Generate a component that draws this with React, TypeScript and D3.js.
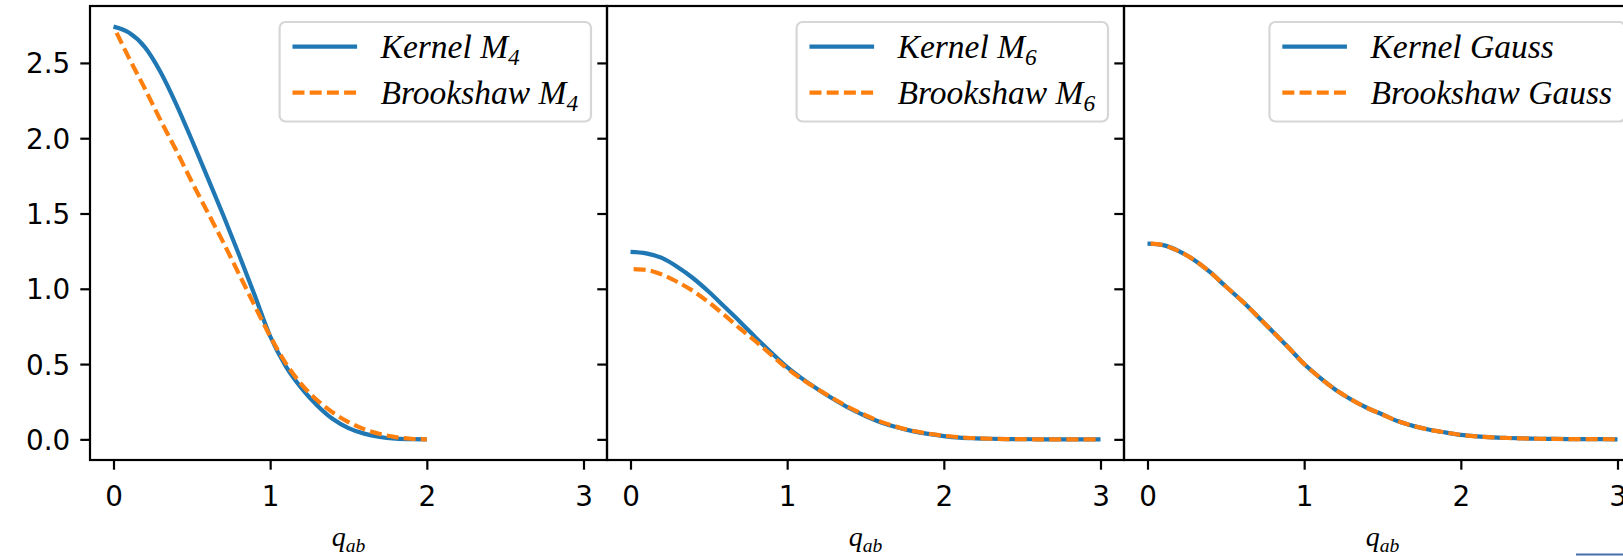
import React, { useRef, useEffect } from 'react';
import * as d3 from 'd3';

// q values (x axis)
const qM4 = [0, 0.1, 0.2, 0.3, 0.4, 0.5, 0.6, 0.7, 0.8, 0.9, 1.0, 1.1, 1.2, 1.3, 1.4, 1.5, 1.6, 1.7, 1.8, 1.9, 2.0];
const qM4Brook = [0.02, 0.1, 0.2, 0.3, 0.4, 0.5, 0.6, 0.7, 0.8, 0.9, 1.0, 1.1, 1.2, 1.3, 1.4, 1.5, 1.6, 1.7, 1.8, 1.9, 2.0];
const qLong = [0, 0.1, 0.2, 0.3, 0.4, 0.5, 0.6, 0.7, 0.8, 0.9, 1.0, 1.1, 1.2, 1.3, 1.4, 1.5, 1.6, 1.7, 1.8, 1.9, 2.0,
  2.1, 2.2, 2.3, 2.4, 2.5, 2.6, 2.7, 2.8, 2.9, 3.0];
const qLongBrook = [0.02, 0.1, 0.2, 0.3, 0.4, 0.5, 0.6, 0.7, 0.8, 0.9, 1.0, 1.1, 1.2, 1.3, 1.4, 1.5, 1.6, 1.7, 1.8, 1.9, 2.0,
  2.1, 2.2, 2.3, 2.4, 2.5, 2.6, 2.7, 2.8, 2.9, 3.0];

// panel 1: M4
const kernelM4 = [2.741, 2.70, 2.605, 2.44, 2.227, 1.988, 1.74, 1.49, 1.229, 0.96, 0.685, 0.485, 0.34, 0.225, 0.135,
  0.075, 0.038, 0.016, 0.005, 0.001, 0];
const brookM4 = [2.70, 2.53, 2.33, 2.12, 1.92, 1.71, 1.51, 1.31, 1.10, 0.89, 0.685, 0.505, 0.365, 0.26, 0.178,
  0.115, 0.068, 0.036, 0.015, 0.004, 0];

// panel 2: M6
const kernelM6 = [1.245, 1.235, 1.205, 1.145, 1.07, 0.98, 0.88, 0.78, 0.675, 0.575, 0.48, 0.40, 0.33, 0.265, 0.205,
  0.155, 0.112, 0.08, 0.055, 0.036, 0.022, 0.012, 0.007, 0.004, 0.002, 0.001, 0.0005, 0.0002, 0.0001, 0, 0];
const brookM6 = [1.13, 1.125, 1.095, 1.045, 0.985, 0.91, 0.825, 0.735, 0.65, 0.56, 0.47, 0.395, 0.33, 0.268, 0.21,
  0.16, 0.116, 0.083, 0.057, 0.038, 0.024, 0.014, 0.008, 0.004, 0.002, 0.001, 0.0005, 0.0002, 0.0001, 0, 0];

// panel 3: Gauss
const kernelGauss = [1.30, 1.29, 1.25, 1.19, 1.11, 1.015, 0.922, 0.82, 0.715, 0.61, 0.50, 0.41, 0.33, 0.265, 0.21,
  0.165, 0.12, 0.088, 0.064, 0.046, 0.03, 0.02, 0.013, 0.009, 0.006, 0.004, 0.003, 0.002, 0.001, 0.001, 0];
const brookGauss = [1.30, 1.29, 1.25, 1.19, 1.11, 1.015, 0.922, 0.82, 0.715, 0.61, 0.50, 0.41, 0.33, 0.265, 0.21,
  0.165, 0.12, 0.088, 0.064, 0.046, 0.03, 0.02, 0.013, 0.009, 0.006, 0.004, 0.003, 0.002, 0.001, 0.001, 0];

const xTicks = [0, 1, 2, 3];
const xTickLabels = ['0', '1', '2', '3'];
const yTicks = [0, 0.5, 1.0, 1.5, 2.0, 2.5];
const yTickLabels = ['0.0', '0.5', '1.0', '1.5', '2.0', '2.5'];

const legendWords = ['Kernel', 'Brookshaw'];
const kernelNames = ['M', 'M', 'Gauss'];
const kernelSubs = ['4', '6', ''];

const BLUE = '#1f77b4';
const ORANGE = '#ff7f0e';

const App = () => {
  const ref = useRef<SVGSVGElement>(null);

  useEffect(() => {
    const svg = d3.select(ref.current);
    svg.selectAll('*').remove();

    const W = 1623;
    const H = 556;
    const panelW = 517;
    const left0 = 90;
    const top = 6;
    const bottom = 460;

    const series = [
      { kq: qM4, kv: kernelM4, bq: qM4Brook, bv: brookM4 },
      { kq: qLong, kv: kernelM6, bq: qLongBrook, bv: brookM6 },
      { kq: qLong, kv: kernelGauss, bq: qLongBrook, bv: brookGauss },
    ];

    svg.append('rect').attr('width', W).attr('height', H).attr('fill', '#fff');

    // shared y range with 5% margins like matplotlib
    const allV = series.flatMap(s => [...s.kv, ...s.bv]);
    const yMax = d3.max(allV) as number;
    const yPad = yMax * 0.05;
    const xMax = d3.max(xTicks) as number;
    const xPad = xMax * 0.05;

    const y = d3.scaleLinear().domain([-yPad, yMax + yPad]).range([bottom, top]);

    series.forEach((s, i) => {
      const x0 = left0 + i * panelW;
      const x = d3.scaleLinear().domain([-xPad, xMax + xPad]).range([x0, x0 + panelW]);
      const g = svg.append('g');

      const line = d3.line<number>()
        .x((_, k) => 0)
        .curve(d3.curveMonotoneX);

      // kernel (blue, solid)
      g.append('path')
        .attr('d', d3.line<number>()
          .x((_, k) => x(s.kq[k]))
          .y(v => y(v))
          .curve(d3.curveMonotoneX)(s.kv))
        .attr('fill', 'none')
        .attr('stroke', BLUE)
        .attr('stroke-width', 4.2);

      // brookshaw (orange, dashed)
      g.append('path')
        .attr('d', d3.line<number>()
          .x((_, k) => x(s.bq[k]))
          .y(v => y(v))
          .curve(d3.curveMonotoneX)(s.bv))
        .attr('fill', 'none')
        .attr('stroke', ORANGE)
        .attr('stroke-width', 4.2)
        .attr('stroke-dasharray', '12 5.2');

      // x axis
      const gx = g.append('g')
        .attr('transform', `translate(0,${bottom})`)
        .call(d3.axisBottom(x).tickValues(xTicks)
          .tickFormat((d, k) => xTickLabels[k]).tickSize(9.7).tickPadding(9.7));
      gx.select('.domain').remove();
      gx.attr('font-size', 27.8).attr('font-family', 'DejaVu Sans');
      gx.selectAll('line').attr('stroke', '#000').attr('stroke-width', 2.2);
      gx.selectAll('text').attr('y', 46).attr('dy', null).attr('fill', '#000');

      // y axis, labels only on the first panel
      const gy = g.append('g')
        .attr('transform', `translate(${x0},0)`)
        .call(d3.axisLeft(y).tickValues(yTicks)
          .tickFormat((d, k) => (i === 0 ? yTickLabels[k] : '')).tickSize(9.7).tickPadding(10));
      gy.select('.domain').remove();
      gy.attr('font-size', 27.8).attr('font-family', 'DejaVu Sans');
      gy.selectAll('line').attr('stroke', '#000').attr('stroke-width', 2.2);
      gy.selectAll('text').attr('dy', '0.36em').attr('fill', '#000');

      // frame
      g.append('rect')
        .attr('x', x0).attr('y', top)
        .attr('width', panelW).attr('height', bottom - top)
        .attr('fill', 'none').attr('stroke', '#000').attr('stroke-width', 2.2);

      // x label q_ab
      const xl = g.append('text')
        .attr('x', x0 + panelW / 2)
        .attr('y', 546)
        .attr('text-anchor', 'middle')
        .attr('font-family', 'Liberation Serif')
        .attr('font-style', 'italic')
        .attr('font-size', 28)
        .attr('fill', '#000');
      xl.append('tspan').text('q');
      xl.append('tspan').attr('font-size', 19.6).attr('dy', 6).text('ab');

      // legend
      const fs = 33.5;
      const leg = g.append('g');
      const widths: number[] = [];
      legendWords.forEach((word, j) => {
        const cy = 46.7 + j * 46;
        leg.append('line')
          .attr('x1', 12.9).attr('x2', 77.5)
          .attr('y1', cy).attr('y2', cy)
          .attr('stroke', j === 0 ? BLUE : ORANGE)
          .attr('stroke-width', 4.2)
          .attr('stroke-dasharray', j === 0 ? null : '12 5.2');
        const t = leg.append('text')
          .attr('x', 101)
          .attr('y', cy + 11.5)
          .attr('font-family', 'Liberation Serif')
          .attr('font-style', 'italic')
          .attr('font-size', fs)
          .attr('fill', '#000');
        t.append('tspan').text(`${word} ${kernelNames[i]}`);
        if (kernelSubs[i]) {
          t.append('tspan').attr('font-size', fs * 0.7).attr('dy', 6.5).text(kernelSubs[i]);
        }
        widths.push((t.node() as SVGTextElement).getComputedTextLength());
      });
      const boxW = 101 + (d3.max(widths) as number) + 12.9;
      const boxRight = x0 + panelW - 16;
      leg.attr('transform', `translate(${boxRight - boxW},0)`);
      leg.insert('rect', ':first-child')
        .attr('x', 0).attr('y', 22)
        .attr('width', boxW).attr('height', 99.5)
        .attr('rx', 6).attr('ry', 6)
        .attr('fill', '#fff').attr('fill-opacity', 0.8)
        .attr('stroke', '#d6d6d6').attr('stroke-width', 2.2);
    });

    // small bar at the lower right edge
    svg.append('line')
      .attr('x1', 1576).attr('x2', W)
      .attr('y1', 554.5).attr('y2', 554.5)
      .attr('stroke', '#4a6ea9').attr('stroke-width', 2);
  }, []);

  return (
    <div style={{ position: 'absolute', left: 0, top: 0 }}>
      <svg ref={ref} width="1623" height="556" style={{ display: 'block' }}></svg>
    </div>
  );
};

export default App;
